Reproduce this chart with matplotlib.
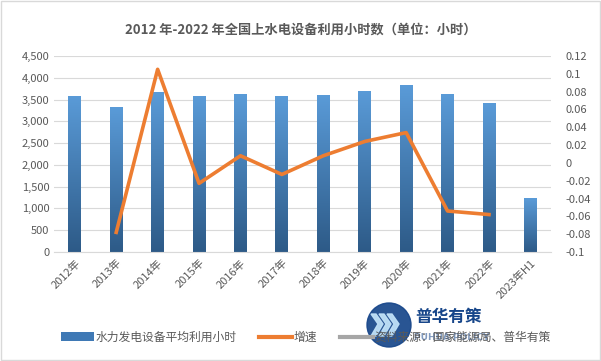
import numpy as np
import matplotlib.pyplot as plt
from matplotlib.colors import LinearSegmentedColormap
from matplotlib.lines import Line2D
from matplotlib.patches import Patch, Circle, Polygon
from matplotlib.ticker import FuncFormatter

plt.rcParams['font.family'] = ['Noto Sans CJK SC', 'DejaVu Sans']

years = ['2012年', '2013年', '2014年', '2015年', '2016年', '2017年', '2018年',
         '2019年', '2020年', '2021年', '2022年', '2023年H1']
hours = [3591, 3318, 3669, 3590, 3621, 3579, 3613, 3697, 3827, 3622, 3412, 1239]
growth = [np.nan, -0.078, 0.105, -0.023, 0.008, -0.013, 0.008, 0.024, 0.034,
          -0.054, -0.058, np.nan]

title = '2012 年-2022 年全国上水电设备利用小时数（单位：小时）'
label_bar = '水力发电设备平均利用小时'
label_line = '增速'
label_src = '资料来源：国家能源局、普华有策'

txt = '#595959'
grid = '#d9d9d9'
cmap = LinearSegmentedColormap.from_list('bar', ['#2d5a87', '#5a9bd8'])

fig = plt.figure(figsize=(6.01, 3.61), dpi=100)
ax = fig.add_axes([0.09, 0.302, 0.827, 0.543])
x = np.arange(len(years))
w = 0.31

bars = ax.bar(x, hours, width=w, color='none', zorder=2)
grad = np.linspace(0, 1, 256).reshape(-1, 1)
for b in bars:
    bx, by = b.get_x(), b.get_y()
    im = ax.imshow(grad, cmap=cmap, origin='lower', aspect='auto',
                   extent=[bx, bx + b.get_width(), by, by + b.get_height()], zorder=2)
    im.set_clip_path(b)

ax.set_xlim(-0.5, len(years) - 0.5)
ax.set_ylim(0, 4500)
ax.set_yticks(np.arange(0, 4501, 500))
ax.yaxis.set_major_formatter(FuncFormatter(lambda v, p: f'{int(v):,}'))
ax.grid(axis='y', color=grid, lw=0.8, zorder=0)
ax.set_axisbelow(True)
ax.set_xticks(x)
ax.set_xticklabels(years, rotation=45, ha='right', rotation_mode='anchor')
for s in ax.spines.values():
    s.set_visible(False)
ax.spines['bottom'].set_visible(True)
ax.spines['bottom'].set_color(grid)
ax.tick_params(length=0, colors=txt, labelsize=8)
ax.tick_params(axis='x', pad=4)

ax2 = ax.twinx()
ax2.plot(x, growth, color='#ed7d31', lw=2.6, zorder=3)
ax2.set_ylim(-0.1, 0.12)
ax2.set_yticks(np.round(np.arange(-0.1, 0.121, 0.02), 2))
ax2.yaxis.set_major_formatter(FuncFormatter(lambda v, p: f'{v:g}' if abs(v) > 1e-9 else '0'))
for s in ax2.spines.values():
    s.set_visible(False)
ax2.tick_params(length=0, colors=txt, labelsize=8, pad=10)

fig.text(0.5, 0.918, title, ha='center', va='center', fontsize=9.5,
         fontweight='bold', color=txt)

handles = [Patch(facecolor='#3f79b5', edgecolor='none'),
           Line2D([], [], color='#ed7d31', lw=3),
           Line2D([], [], color='#a6a6a6', lw=3)]
fig.legend(handles, [label_bar, label_line, label_src], loc='center',
           bbox_to_anchor=(0.509, 0.066), ncol=3, frameon=False, fontsize=8.5,
           labelcolor=txt, handlelength=2.8, handletextpad=0.15, columnspacing=1.9)

# watermark logo
W, H = 601, 361
logo = fig.add_axes([0, 0, 1, 1], facecolor='none')
logo.set_xlim(0, W)
logo.set_ylim(H, 0)
logo.axis('off')
logo.add_patch(Circle((389, 325), 22, color='#17468a', alpha=0.92))
for dx in (-10, -2, 6):
    logo.add_patch(Polygon([(381 + dx, 314), (386 + dx, 314), (393 + dx, 324),
                            (386 + dx, 336), (381 + dx, 336), (388 + dx, 324)],
                           color='#bfe0f7', alpha=0.95))
logo.text(415, 317, '普华有策', fontsize=12, fontweight='bold', color='#17468a',
          va='center', ha='left')
logo.text(414, 337, 'PUHUA POLICY', fontsize=6.5, fontweight='bold', color='#17468a',
          alpha=0.55, va='center', ha='left', family='DejaVu Sans')

fig.patches.append(plt.Rectangle((0.002, 0.003), 0.996, 0.994, transform=fig.transFigure,
                                 fill=False, edgecolor='#d9d9d9', lw=1))

fig.savefig('out.png', dpi=100)
